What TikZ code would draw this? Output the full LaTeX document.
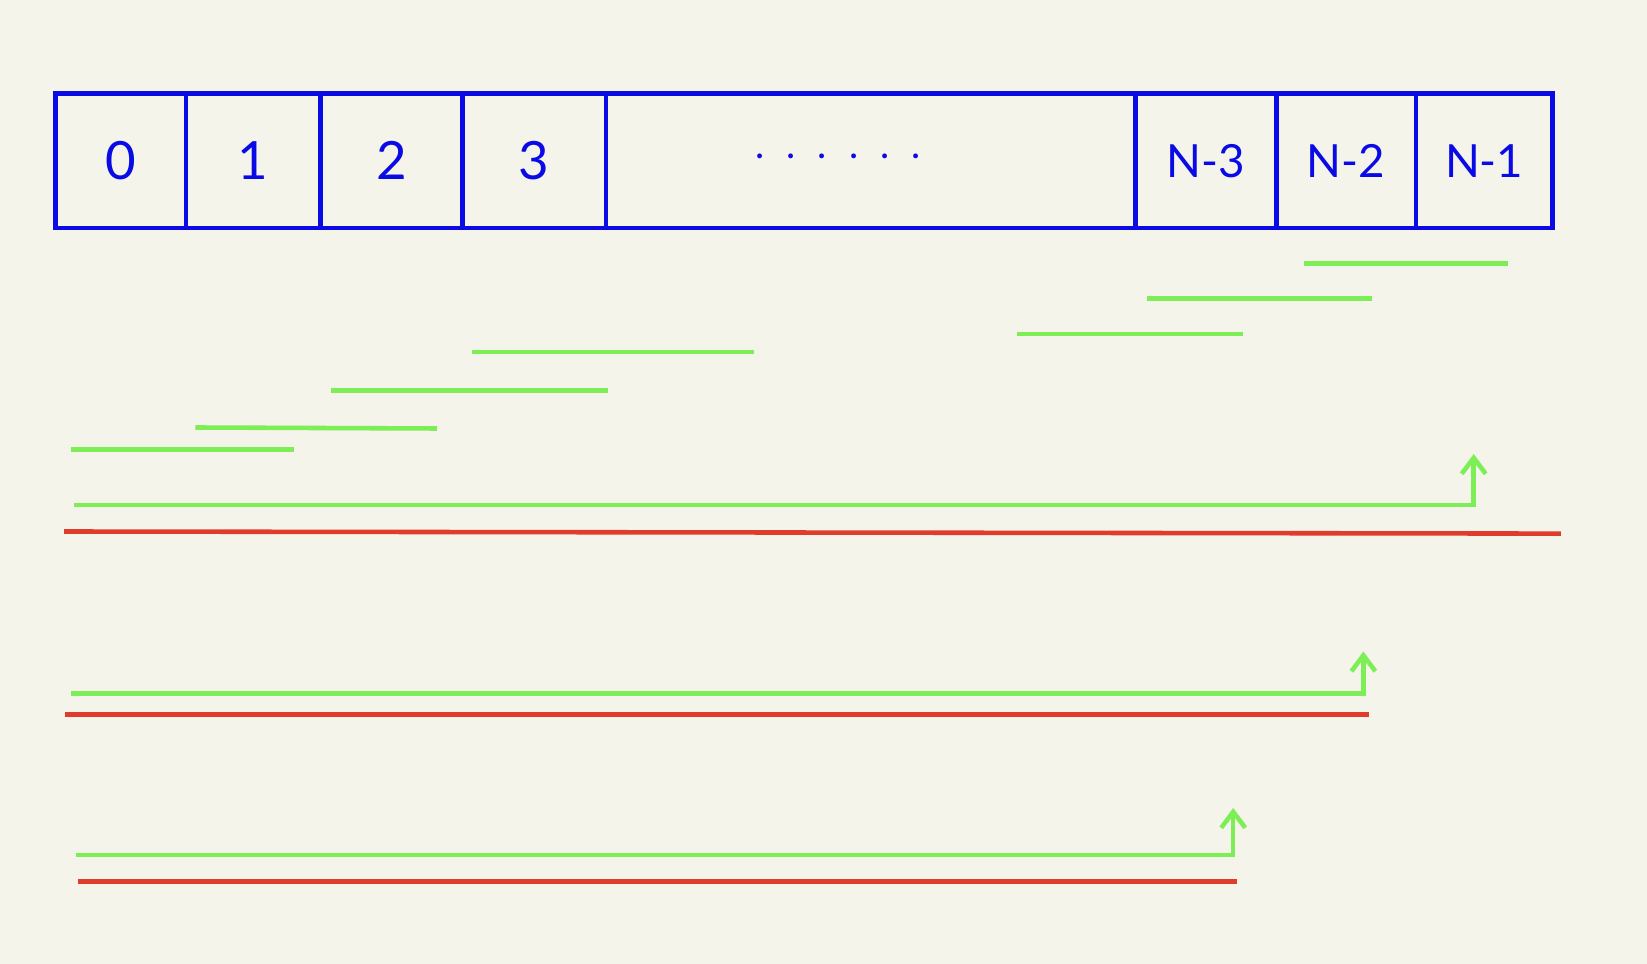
\documentclass[tikz,border=0pt]{standalone}
\usepackage{fontspec}
\setmainfont{Lato}
\usepackage{xcolor}
\usepackage{tikz}
\usetikzlibrary{arrows.meta, positioning}
\definecolor{bgcolor}{HTML}{F5F4EA}
\definecolor{cellblue}{HTML}{0A0AE6}
\definecolor{segreen}{HTML}{7DEE55}
\definecolor{sumred}{HTML}{E03C2C}

\begin{document}
\begin{tikzpicture}[
  x=0.01cm, y=-0.01cm,
  cell/.style={rectangle, draw=cellblue, line width=1.3pt, inner sep=0pt,
    minimum height=1.345cm, text=cellblue,
    font=\fontsize{15}{18}\selectfont},
  ncell/.style={cell, font=\fontsize{13}{16}\selectfont},
  seg/.style={draw=segreen, line width=1.3pt},
  total/.style={draw=sumred, line width=1.3pt},
  growline/.style={seg, -{Straight Barb[length=1.6mm, width=2.4mm, line width=1.3pt]}}
]
  \fill[bgcolor] (0,0) rectangle (1647,964);

  % array cells
  \node[cell, minimum width=1.302cm] (c0) at (120.8,160.75) {0};
  \node[cell, minimum width=1.345cm] (c1) at (253.15,160.75) {1};
  \node[cell, minimum width=1.418cm] (c2) at (391.3,160.75) {2};
  \node[cell, minimum width=1.439cm] (c3) at (534.15,160.75) {3};
  \node[cell, minimum width=5.294cm] (cdots) at (870.8,160.75) {};
  \node[text=cellblue, font=\fontsize{11}{13}\selectfont] (dots) at (838,156)
    {.\hspace{0.22cm}.\hspace{0.22cm}.\hspace{0.22cm}.\hspace{0.22cm}.\hspace{0.22cm}.};
  \node[ncell, minimum width=1.408cm] (cn3) at (1205.9,160.75) {N-3};
  \node[ncell, minimum width=1.397cm] (cn2) at (1346.15,160.75) {N-2};
  \node[ncell, minimum width=1.365cm] (cn1) at (1484.25,160.75) {N-1};

  % short segments
  \coordinate (s1a) at (1303.5,263.6); \coordinate (s1b) at (1508.4,263.6);
  \coordinate (s2a) at (1147,298.3);   \coordinate (s2b) at (1371.8,298.3);
  \coordinate (s3a) at (1016.8,334);   \coordinate (s3b) at (1242.6,334);
  \coordinate (s4a) at (471.6,351.9);  \coordinate (s4b) at (754.2,351.9);
  \coordinate (s5a) at (330.9,390.7);  \coordinate (s5b) at (608.2,390.7);
  \coordinate (s6a) at (195.4,427.5);  \coordinate (s6b) at (437,428.5);
  \coordinate (s7a) at (71.4,449.6);   \coordinate (s7b) at (294.1,449.6);
  \draw[seg] (s1a) -- (s1b);
  \draw[seg] (s2a) -- (s2b);
  \draw[seg] (s3a) -- (s3b);
  \draw[seg] (s4a) -- (s4b);
  \draw[seg] (s5a) -- (s5b);
  \draw[seg] (s6a) -- (s6b);
  \draw[seg] (s7a) -- (s7b);

  % first row
  \coordinate (g1a) at (73.5,505.2);  \coordinate (g1b) at (1473.7,505.2);
  \coordinate (g1t) at (1473.7,454);
  \draw[growline] (g1a) -- (g1b) -- (g1t);
  \coordinate (r1a) at (64.1,531.5);  \coordinate (r1b) at (1560.9,533.6);
  \draw[total] (r1a) -- (r1b);

  % second row
  \coordinate (g2a) at (71.4,693.3);  \coordinate (g2b) at (1363.4,693.3);
  \coordinate (g2t) at (1363.4,651.5);
  \draw[growline] (g2a) -- (g2b) -- (g2t);
  \coordinate (r2a) at (65.1,714.3);  \coordinate (r2b) at (1368.7,714.3);
  \draw[total] (r2a) -- (r2b);

  % third row
  \coordinate (g3a) at (75.6,855);    \coordinate (g3b) at (1233.2,855);
  \coordinate (g3t) at (1233.2,808);
  \draw[growline] (g3a) -- (g3b) -- (g3t);
  \coordinate (r3a) at (77.7,881.3);  \coordinate (r3b) at (1237.4,881.3);
  \draw[total] (r3a) -- (r3b);
\end{tikzpicture}
\end{document}
